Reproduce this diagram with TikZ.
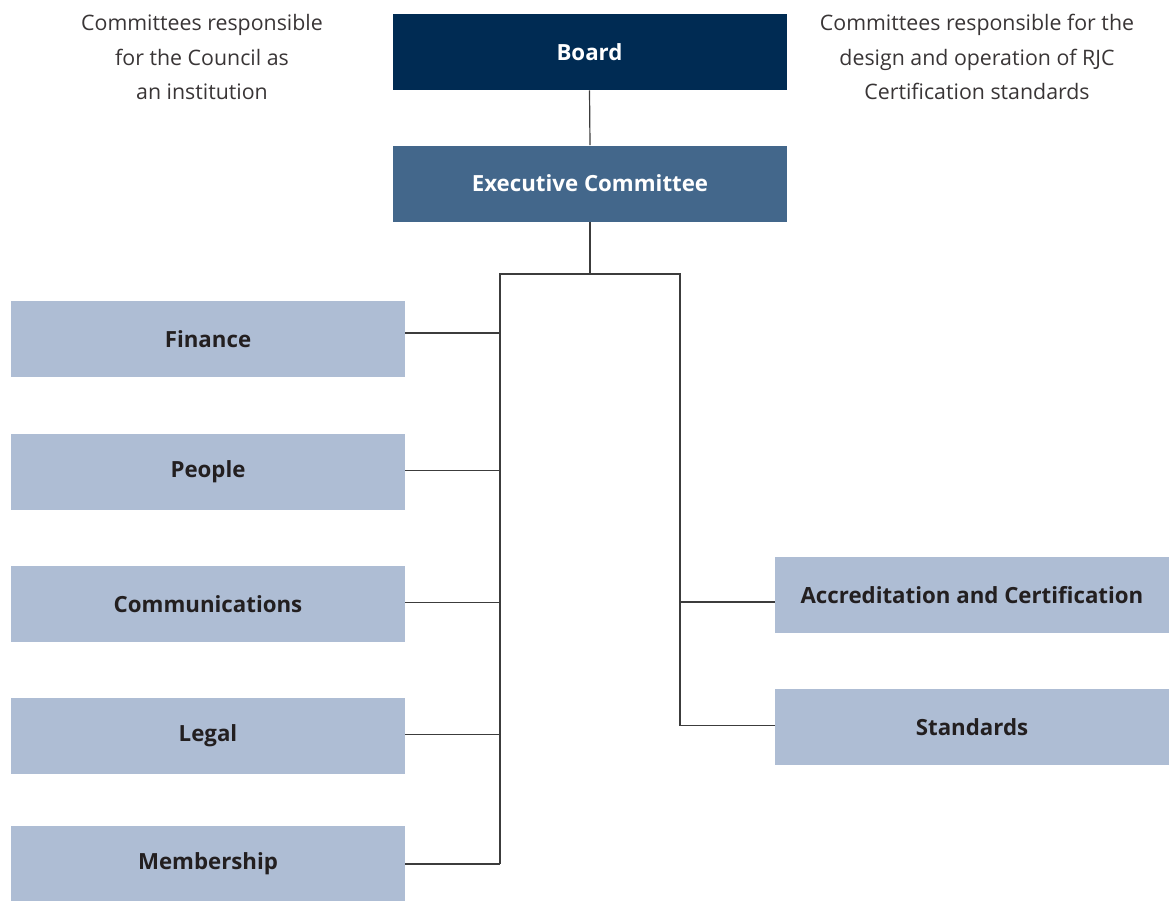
\documentclass[tikz,border=0pt]{standalone}
\usepackage{fontspec}
\setmainfont{Open Sans}
\definecolor{boardblue}{HTML}{002B53}
\definecolor{execblue}{HTML}{43678B}
\definecolor{cttblue}{HTML}{AEBDD4}
\definecolor{inkgrey}{HTML}{231F20}
\definecolor{linegrey}{HTML}{3C3C3C}
\tikzset{
  box/.style={rectangle, inner sep=0pt, minimum width=295.5pt, minimum height=57pt,
    font=\bfseries\fontsize{16.7}{19}\selectfont},
  topbox/.style={box, text=white},
  ctt/.style={box, fill=cttblue, text=inkgrey},
  note/.style={align=center, text=inkgrey!90, font=\fontsize{16}{26}\selectfont},
  link/.style={draw=linegrey, line width=0.9pt}
}
\begin{document}
\begin{tikzpicture}[x=0.75pt,y=0.75pt,yscale=-1]
\useasboundingbox (0,0) rectangle (1173,900);

% top of the chart
\node [topbox, fill=boardblue] (board) at (589.5,52) {Board};
\node [topbox, fill=execblue] (exec) at (590,183.5) {Executive Committee};

% notes either side of the board
\node [note] (noteL) at (202,57) {Committees responsible\\for the Council as\\an institution};
\node [note] (noteR) at (977,57) {Committees responsible for the\\design and operation of RJC\\Certification standards};

% council committees
\node [ctt] (fin) at (208,339) {Finance};
\node [ctt] (ppl) at (208,472) {People};
\node [ctt] (com) at (208,604) {Communications};
\node [ctt] (leg) at (208,736) {Legal};
\node [ctt] (mem) at (208,864) {Membership};

% certification committees
\node [ctt] (acc) at (972,595) {Accreditation and Certification};
\node [ctt] (std) at (972,727) {Standards};

% bus
\coordinate (busM) at (590,274);
\coordinate (busL) at (500,274);
\coordinate (busR) at (680,274);

\draw [link] (board.south) -- (exec.north);
\draw [link] (exec.south) -- (busM);
\draw [link] (busL |- mem.east) -- (busL) -- (busR) -- ([yshift=-1pt]busR |- std.west);

\draw [link] ([yshift=-4.5pt]fin.east) -- ([yshift=-4.5pt]fin.east -| busL);
\foreach \c in {ppl,com,leg}
  \draw [link] ([yshift=-1pt]\c.east) -- ([yshift=-1pt]\c.east -| busL);
\draw [link] (mem.east) -- (mem.east -| busL);
\draw [link] ([yshift=5.25pt]acc.west) -- ([yshift=5.25pt]acc.west -| busR);
\draw [link] ([yshift=-1pt]std.west) -- ([yshift=-1pt]std.west -| busR);

\end{tikzpicture}
\end{document}
